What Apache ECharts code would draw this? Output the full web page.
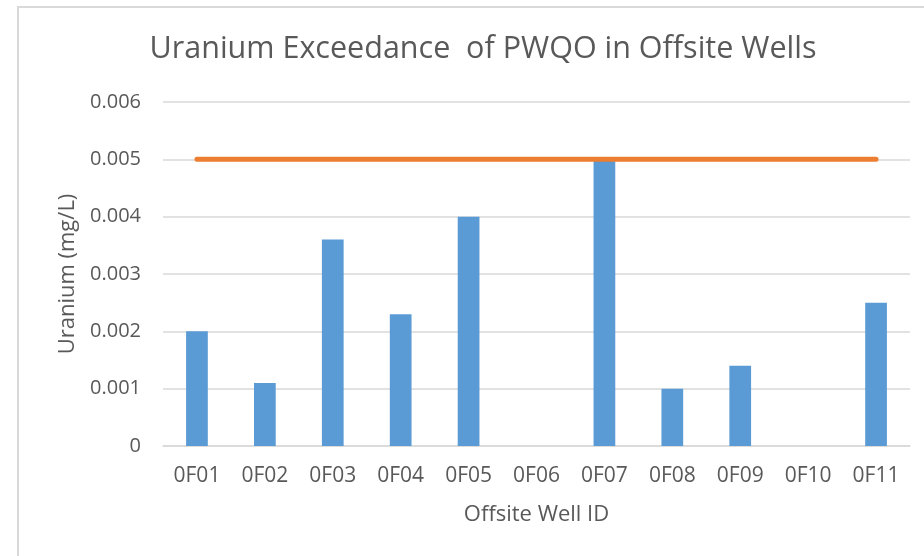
<!DOCTYPE html>
<html>
<head>
<meta charset="utf-8">
<script src="https://cdn.jsdelivr.net/npm/echarts@6/dist/echarts.min.js"></script>
<style>
html,body{margin:0;padding:0;background:#fff;}
#chart{width:924px;height:556px;}
</style>
</head>
<body>
<div id="chart"></div>
<script>
var categories = ['0F01','0F02','0F03','0F04','0F05','0F06','0F07','0F08','0F09','0F10','0F11'];
var uranium = [0.002, 0.0011, 0.0036, 0.0023, 0.004, null, 0.005, 0.001, 0.0014, null, 0.0025];
var pwqo = [0.005, 0.005, 0.005, 0.005, 0.005, 0.005, 0.005, 0.005, 0.005, 0.005, 0.005];
var yTicks = [0, 0.001, 0.002, 0.003, 0.004, 0.005, 0.006];

var font = 'Open Sans';
var chart = echarts.init(document.getElementById('chart'), null, {renderer: 'canvas'});
chart.setOption({
  animation: false,
  backgroundColor: '#ffffff',
  title: {
    text: 'Uranium Exceedance  of PWQO in Offsite Wells',
    left: 478, top: 29, textAlign: 'center',
    textStyle: {fontFamily: font, fontSize: 30.5, fontWeight: 'normal', color: '#595959'}
  },
  graphic: [{
    type: 'polyline',
    shape: {points: [[18, 560], [18, 7], [930, 7]]},
    style: {stroke: '#d9d9d9', lineWidth: 2, fill: null},
    silent: true
  }],
  grid: {left: 163, right: 14, top: 102, bottom: 110},
  xAxis: {
    type: 'category',
    data: categories,
    name: 'Offsite Well ID',
    nameLocation: 'middle',
    nameGap: 58,
    nameTextStyle: {fontFamily: font, fontSize: 22, color: '#595959'},
    axisLine: {lineStyle: {color: '#d9d9d9', width: 1.5}},
    axisTick: {show: false},
    axisLabel: {fontFamily: font, fontSize: 21, color: '#595959', margin: 20}
  },
  yAxis: {
    type: 'value',
    min: 0, max: 0.006, interval: 0.001,
    name: 'Uranium (mg/L)',
    nameLocation: 'middle',
    nameGap: 82,
    nameTextStyle: {fontFamily: font, fontSize: 22, color: '#595959'},
    axisLine: {show: false},
    axisTick: {show: false},
    splitLine: {lineStyle: {color: '#d9d9d9', width: 1.5}},
    axisLabel: {
      fontFamily: font, fontSize: 20, color: '#595959', margin: 22,
      formatter: function (v) {
        for (var i = 0; i < yTicks.length; i++) {
          if (Math.abs(v - yTicks[i]) < 1e-9) return i === 0 ? '0' : yTicks[i].toFixed(3);
        }
        return '';
      }
    }
  },
  series: [{
    type: 'bar',
    data: uranium,
    barWidth: '32%',
    itemStyle: {color: '#5b9bd5'},
    z: 2
  }, {
    type: 'line',
    data: pwqo,
    symbol: 'none',
    lineStyle: {color: '#ed7d31', width: 5, cap: 'round'},
    z: 3
  }]
});
</script>
</body>
</html>
